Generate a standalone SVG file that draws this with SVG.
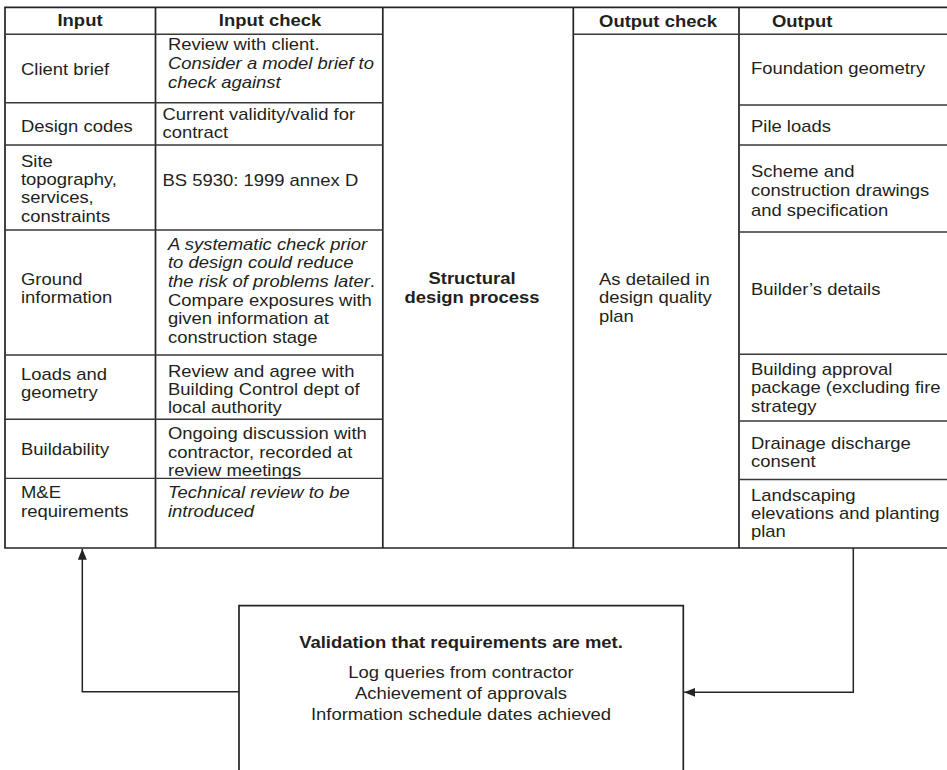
<svg xmlns="http://www.w3.org/2000/svg" width="947" height="770" viewBox="0 0 947 770">
<style>
  .frame { fill: none; stroke: #262324; stroke-width: 1.7; }
  .row { stroke: #3a3738; stroke-width: 1.4; fill: none; }
  .conn { fill: none; stroke: #262324; stroke-width: 1.5; }
  text { font-family: "Liberation Sans", Arial, Helvetica, sans-serif; font-size: 16.4px; fill: #231f20; }
  .b { font-weight: bold; }
  .i { font-style: italic; }
  .m { text-anchor: middle; }
</style>
<defs>
  <marker id="arrow" markerUnits="userSpaceOnUse" markerWidth="12" markerHeight="10" refX="11" refY="4.5" orient="auto">
    <path d="M0,0 L11,4.5 L0,9 z" fill="#262324"/>
  </marker>
</defs>
<rect width="947" height="770" fill="#ffffff"/>

<g id="table-grid">
  <path class="frame" d="M947,7.3 H5 V548 H947"/>
  <path class="frame" d="M155.5,7.3 V548 M382.8,7.3 V548 M573.3,7.3 V548 M739,7.3 V548"/>
  <path class="row" d="M5,34.3 H382.8 M5,102.7 H382.8 M5,145 H382.8 M5,230 H382.8 M5,355 H382.8 M5,419.3 H382.8 M5,478.4 H382.8"/>
  <path class="row" d="M573.3,34.3 H947 M739,105 H947 M739,145 H947 M739,232 H947 M739,354.3 H947 M739,421 H947 M739,479.5 H947"/>
</g>

<g id="headers">
  <text class="b m" transform="translate(80,26) scale(1.125,1)">Input</text>
  <text class="b m" transform="translate(270,26) scale(1.125,1)">Input check</text>
  <text class="b m" transform="translate(658,27.3) scale(1.125,1)">Output check</text>
  <text class="b" transform="translate(772,27.3) scale(1.125,1)">Output</text>
</g>

<g id="input-client-brief">
  <text transform="translate(21,74.5) scale(1.125,1)">Client brief</text>
  <text transform="translate(168,50) scale(1.125,1)"><tspan x="0" y="0">Review with client.</tspan><tspan class="i" x="0" y="19.2">Consider a model brief to</tspan><tspan class="i" x="0" y="38.4">check against</tspan></text>
</g>

<g id="input-design-codes">
  <text transform="translate(21,131.5) scale(1.125,1)">Design codes</text>
  <text transform="translate(162.5,120) scale(1.125,1)"><tspan x="0" y="0">Current validity/valid for</tspan><tspan x="0" y="18.4">contract</tspan></text>
</g>

<g id="input-site">
  <text transform="translate(21,166.5) scale(1.125,1)"><tspan x="0" y="0">Site</tspan><tspan x="0" y="18.4">topography,</tspan><tspan x="0" y="36.8">services,</tspan><tspan x="0" y="55.2">constraints</tspan></text>
  <text transform="translate(162.5,186) scale(1.125,1)">BS 5930: 1999 annex D</text>
</g>

<g id="input-ground">
  <text transform="translate(21,285) scale(1.125,1)"><tspan x="0" y="0">Ground</tspan><tspan x="0" y="18.5">information</tspan></text>
  <text transform="translate(168,249.7) scale(1.125,1)"><tspan class="i" x="0" y="0">A systematic check prior</tspan><tspan class="i" x="0" y="18.65">to design could reduce</tspan><tspan class="i" x="0" y="37.3">the risk of problems later</tspan><tspan>.</tspan><tspan x="0" y="55.95">Compare exposures with</tspan><tspan x="0" y="74.6">given information at</tspan><tspan x="0" y="93.25">construction stage</tspan></text>
</g>

<g id="input-loads">
  <text transform="translate(21,380) scale(1.125,1)"><tspan x="0" y="0">Loads and</tspan><tspan x="0" y="18.5">geometry</tspan></text>
  <text transform="translate(168,376.5) scale(1.125,1)"><tspan x="0" y="0">Review and agree with</tspan><tspan x="0" y="18.3">Building Control dept of</tspan><tspan x="0" y="36.6">local authority</tspan></text>
</g>

<g id="input-buildability">
  <text transform="translate(21,455) scale(1.125,1)">Buildability</text>
  <text transform="translate(168,439.3) scale(1.125,1)"><tspan x="0" y="0">Ongoing discussion with</tspan><tspan x="0" y="18.3">contractor, recorded at</tspan><tspan x="0" y="36.6">review meetings</tspan></text>
</g>

<g id="input-me">
  <text transform="translate(21,498.3) scale(1.125,1)"><tspan x="0" y="0">M&amp;E</tspan><tspan x="0" y="18.4">requirements</tspan></text>
  <text class="i" transform="translate(168,498.3) scale(1.125,1)"><tspan x="0" y="0">Technical review to be</tspan><tspan x="0" y="18.4">introduced</tspan></text>
</g>

<g id="process">
  <text class="b m" transform="translate(472,284) scale(1.125,1)"><tspan x="0" y="0">Structural</tspan><tspan x="0" y="19">design process</tspan></text>
</g>

<g id="output-check">
  <text transform="translate(599,285) scale(1.125,1)"><tspan x="0" y="0">As detailed in</tspan><tspan x="0" y="18.5">design quality</tspan><tspan x="0" y="37">plan</tspan></text>
</g>

<g id="output-foundation">
  <text transform="translate(751,74) scale(1.125,1)">Foundation geometry</text>
</g>
<g id="output-pile">
  <text transform="translate(751,131.7) scale(1.125,1)">Pile loads</text>
</g>
<g id="output-scheme">
  <text transform="translate(751,177.3) scale(1.125,1)"><tspan x="0" y="0">Scheme and</tspan><tspan x="0" y="19.2">construction drawings</tspan><tspan x="0" y="38.4">and specification</tspan></text>
</g>
<g id="output-builders">
  <text transform="translate(751,295) scale(1.125,1)">Builder’s details</text>
</g>
<g id="output-approval">
  <text transform="translate(751,375) scale(1.125,1)"><tspan x="0" y="0">Building approval</tspan><tspan x="0" y="18.3">package (excluding fire</tspan><tspan x="0" y="36.6">strategy</tspan></text>
</g>
<g id="output-drainage">
  <text transform="translate(751,449) scale(1.125,1)"><tspan x="0" y="0">Drainage discharge</tspan><tspan x="0" y="18.5">consent</tspan></text>
</g>
<g id="output-landscaping">
  <text transform="translate(751,500.5) scale(1.125,1)"><tspan x="0" y="0">Landscaping</tspan><tspan x="0" y="18.5">elevations and planting</tspan><tspan x="0" y="37">plan</tspan></text>
</g>

<g id="validation">
  <path class="frame" d="M239,780 V605.7 H683.3 V780"/>
  <text class="b m" transform="translate(461,648.3) scale(1.125,1)">Validation that requirements are met.</text>
  <text class="m" transform="translate(461,677.7) scale(1.125,1)"><tspan x="0" y="0">Log queries from contractor</tspan><tspan x="0" y="21.3">Achievement of approvals</tspan><tspan x="0" y="42.6">Information schedule dates achieved</tspan></text>
</g>

<g id="connectors">
  <path class="conn" d="M239,691.7 H82.3 V548.8" marker-end="url(#arrow)"/>
  <path class="conn" d="M853.3,548 V692.3 H684.2" marker-end="url(#arrow)"/>
</g>
</svg>
